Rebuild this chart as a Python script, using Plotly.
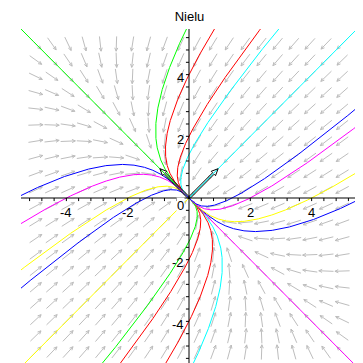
import numpy as np
import plotly.graph_objects as go

# ---------------- data ----------------
title_text = "Nielu"
# linear system  x' = a11 x + a12 y,  y' = a21 x + a22 y
system_matrix = [[-2.0, -1.0],
                 [-1.0, -2.0]]
# initial points of the solution curves and their colours
init_x = [-1, -1, 0, 0, 1, 1, -3, -4, -2, -3,
          1, 1, 0, 0, -1, -1, 3, 4, 2, 3]
init_y = [1, 3, 4, 2, 3, 1, 1, 0, 0, -1,
          -1, -3, -4, -2, -3, -1, -1, 0, 0, 1]
curve_colors = ["#00ff00", "#00ff00", "#ff0000", "#ff0000", "#00ffff", "#00ffff",
                "#0000ff", "#ff00ff", "#ffff00", "#0000ff",
                "#ff00ff", "#00ffff", "#ff0000", "#ff0000", "#00ff00", "#ffff00",
                "#0000ff", "#ffff00", "#ff00ff", "#0000ff"]
# eigenvectors drawn as hollow arrows
eigen_x = [1, -1]
eigen_y = [1, 1]
# axis ticks / labels
x_label_vals = [-4, -2, 2, 4]
x_label_text = ["-4", "-2", "2", "4"]
y_label_vals = [4, 2, -2, -4]
y_label_text = ["4", "2", "-2", "-4"]
minor_tick_step = 0.4
# direction field grid
field_min, field_max, field_n = -5.0, 5.0, 20

# ---------------- styling ----------------
RANGE = 5.48
FONT = "Liberation Sans, Arial, sans-serif"
A = np.array(system_matrix)

fig = go.Figure()

# direction field (uniform-length arrows)
g = np.linspace(field_min, field_max, field_n)
L = 0.48
HL = 0.12
ang = np.deg2rad(25)
fx, fy = [], []
for xx in g:
    for yy in g:
        d = A @ np.array([xx, yy])
        nrm = np.hypot(*d)
        if nrm == 0:
            continue
        d = d / nrm
        s = np.array([xx, yy]) - d * L / 2
        e = np.array([xx, yy]) + d * L / 2
        fx += [s[0], e[0], None]
        fy += [s[1], e[1], None]
        for sg in (1, -1):
            c, sn = np.cos(sg * ang), np.sin(sg * ang)
            b = -np.array([c * d[0] - sn * d[1], sn * d[0] + c * d[1]])
            fx += [e[0], e[0] + HL * b[0], None]
            fy += [e[1], e[1] + HL * b[1], None]
fig.add_trace(go.Scatter(x=fx, y=fy, mode="lines",
                         line=dict(color="#bdbdbd", width=1),
                         hoverinfo="skip", showlegend=False))

# solution curves from the exact solution of the linear system
w, V = np.linalg.eig(A)
Vinv = np.linalg.inv(V)
t = np.linspace(-2.6, 9.0, 6000)
for x0, y0, col in zip(init_x, init_y, curve_colors):
    coef = Vinv @ np.array([x0, y0], dtype=float)
    X = (V[:, [0]] * coef[0]) * np.exp(w[0] * t) + (V[:, [1]] * coef[1]) * np.exp(w[1] * t)
    xs, ys = X[0], X[1]
    m = (np.abs(xs) < 7) & (np.abs(ys) < 7)
    fig.add_trace(go.Scatter(x=xs[m], y=ys[m], mode="lines",
                             line=dict(color=col, width=1),
                             hoverinfo="skip", showlegend=False))

# axes through the origin with small ticks
ax, ay = [-RANGE, RANGE, None, 0, 0, None], [0, 0, None, -RANGE, RANGE, None]
tk = 0.1
k = int(RANGE / minor_tick_step)
for i in range(-k, k + 1):
    if i == 0:
        continue
    v = i * minor_tick_step
    ax += [v, v, None]
    ay += [0, -tk, None]
    ax += [0, -tk, None]
    ay += [v, v, None]
fig.add_trace(go.Scatter(x=ax, y=ay, mode="lines",
                         line=dict(color="black", width=1),
                         hoverinfo="skip", showlegend=False))

# eigenvector arrows (hollow)
sc, hw_s, hw_h, hlen = 0.95, 0.035, 0.1, 0.22
for ex, ey in zip(eigen_x, eigen_y):
    d = np.array([ex, ey], dtype=float)
    ln = np.hypot(*d) * sc
    d = d / np.hypot(*d)
    n = np.array([-d[1], d[0]])
    T = d * ln
    B = T - d * hlen
    pts = [n * hw_s, B + n * hw_s, B + n * hw_h, T, B - n * hw_h, B - n * hw_s, -n * hw_s, n * hw_s]
    fig.add_trace(go.Scatter(x=[p[0] for p in pts], y=[p[1] for p in pts], mode="lines",
                             line=dict(color="black", width=1),
                             hoverinfo="skip", showlegend=False))

ann = []
for v, txt in zip(x_label_vals, x_label_text):
    ann.append(dict(x=v, y=0, xref="x", yref="y", text=txt, showarrow=False,
                    xanchor="center", yanchor="top", yshift=-5,
                    font=dict(family=FONT, size=13, color="black")))
for v, txt in zip(y_label_vals, y_label_text):
    ann.append(dict(x=0, y=v, xref="x", yref="y", text=txt, showarrow=False,
                    xanchor="right", yanchor="middle", xshift=-3, yshift=-3,
                    font=dict(family=FONT, size=13, color="black")))
ann.append(dict(x=0, y=0, xref="x", yref="y", text="0", showarrow=False,
                xanchor="right", yanchor="top", xshift=-4, yshift=1,
                bgcolor="white", borderpad=0,
                font=dict(family=FONT, size=13, color="black")))

fig.update_layout(
    width=363, height=363,
    margin=dict(l=13, r=14, t=21, b=4, pad=0),
    paper_bgcolor="white", plot_bgcolor="white",
    title=dict(text=title_text, x=0.5, xanchor="center", y=1 - 8 / 363, yanchor="middle",
               font=dict(family=FONT, size=13, color="black")),
    xaxis=dict(range=[-RANGE, RANGE], visible=False, fixedrange=True),
    yaxis=dict(range=[-RANGE, RANGE], visible=False, fixedrange=True),
    annotations=ann,
    showlegend=False,
)

fig.write_html("out.html")
